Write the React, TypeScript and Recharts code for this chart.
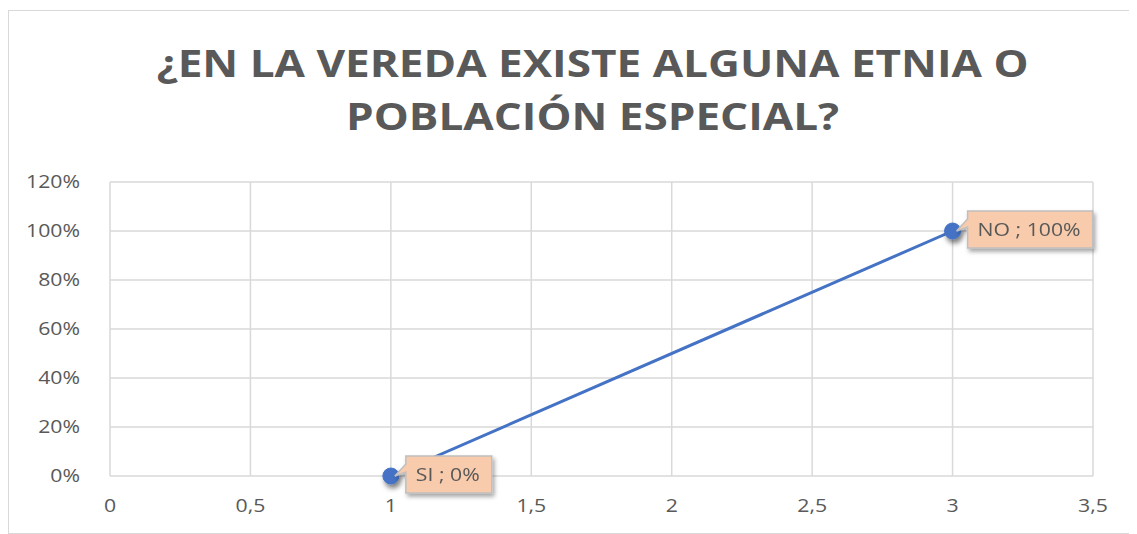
import { LineChart, Line, XAxis, YAxis, CartesianGrid, LabelList } from "recharts";

const categories = ["SI", "NO"];
const xValues = [1, 3];
const yValues = [0, 1];
const xTicks = [0, 0.5, 1, 1.5, 2, 2.5, 3, 3.5];
const yTicks = [0, 0.2, 0.4, 0.6, 0.8, 1, 1.2];

const data = categories.map((c, i) => ({ name: c, x: xValues[i], y: yValues[i] }));

const FONT = "'Open Sans', 'Noto Sans', sans-serif";
const STRETCH = 1.18; // the source text looks horizontally stretched

function measure(text: string, size: number) {
    const ctx = document.createElement("canvas").getContext("2d");
    if (!ctx) return text.length * size * 0.55;
    ctx.font = `${size}px 'Open Sans'`;
    return ctx.measureText(text).width;
}

function XTick(props: any) {
    const { x, y, payload } = props;
    return (
        <text transform={`translate(${x},${y + 14}) scale(${STRETCH},1)`} textAnchor="middle" fontSize={18} fill="#595959" fontFamily={FONT}>
            {String(payload.value).replace(".", ",")}
        </text>
    );
}

function YTick(props: any) {
    const { x, y, payload } = props;
    return (
        <text transform={`translate(${x},${y + 6}) scale(${STRETCH},1)`} textAnchor="end" fontSize={18} fill="#595959" fontFamily={FONT}>
            {`${Math.round(payload.value * 100)}%`}
        </text>
    );
}

// callout-style data label, peach box to the right of the point
function CalloutLabel(props: any) {
    const { x, y, index } = props;
    const text = `${data[index].name} ; ${Math.round(data[index].y * 100)}%`;
    const w = measure(text, 18) * STRETCH + 22;
    const h = 37;
    const bx = x + 15;
    const by = y - 20;
    return (
        <g filter="url(#lblShadow)">
            <path
                d={`M${bx},${by} L${bx + w},${by} L${bx + w},${by + h} L${bx},${by + h} L${bx},${by + 16} L${x + 4},${y} L${bx},${by + 8} Z`}
                fill="#f8cbad"
                stroke="#bfbfbf"
                strokeWidth={1.5}
            />
            <text transform={`translate(${bx + 10},${by + h / 2 + 6}) scale(${STRETCH},1)`} fontSize={18} fill="#595959" fontFamily={FONT}>
                {text}
            </text>
        </g>
    );
}

export default function App() {
    return (
        <div style={{ position: "relative", width: 1125, height: 524, marginTop: 2, border: "1.5px solid #d9d9d9", boxSizing: "border-box", background: "#fff" }}>
            <div style={{ position: "absolute", top: 25, left: 0, width: "100%", textAlign: "center", fontFamily: FONT, fontWeight: 700, fontSize: 38, lineHeight: "53px", color: "#595959", transform: "translateX(22px) scaleX(1.16)", transformOrigin: "561px 0" }}>
                ¿EN LA VEREDA EXISTE ALGUNA ETNIA O<br />POBLACIÓN ESPECIAL?
            </div>
            <LineChart width={1122} height={521} data={data} margin={{ top: 171, right: 38, left: 0, bottom: 0 }}>
                <defs>
                    <filter id="lblShadow" x="-20%" y="-30%" width="150%" height="180%">
                        <feDropShadow dx={2} dy={3} stdDeviation={2} floodColor="#000" floodOpacity={0.35} />
                    </filter>
                    <filter id="dotShadow" x="-50%" y="-50%" width="250%" height="250%">
                        <feDropShadow dx={2} dy={4} stdDeviation={2.5} floodColor="#000" floodOpacity={0.5} />
                    </filter>
                </defs>
                <CartesianGrid stroke="#d9d9d9" strokeWidth={1.5} />
                <XAxis
                    type="number"
                    dataKey="x"
                    domain={[0, 3.5]}
                    ticks={xTicks}
                    axisLine={false}
                    tickLine={false}
                    tick={<XTick />}
                    tickMargin={16}
                    height={56}
                />
                <YAxis
                    type="number"
                    domain={[0, 1.2]}
                    ticks={yTicks}
                    axisLine={false}
                    tickLine={false}
                    tick={<YTick />}
                    tickMargin={24}
                    width={101}
                />
                <Line
                    dataKey="y"
                    stroke="#4472c4"
                    strokeWidth={3}
                    isAnimationActive={false}
                    dot={{ r: 8, fill: "#4472c4", stroke: "#4472c4", strokeWidth: 1, filter: "url(#dotShadow)" }}
                >
                    <LabelList dataKey="y" content={<CalloutLabel />} />
                </Line>
            </LineChart>
        </div>
    );
}
